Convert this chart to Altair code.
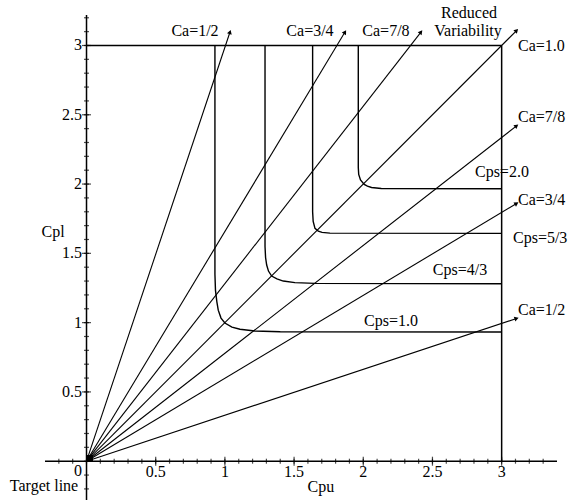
import altair as alt
import pandas as pd
import numpy as np

# ---- data ----
# Ca rays from the origin (end points of each arrow)
ray_label = ["Ca=1/2 (top)", "Ca=3/4 (top)", "Ca=7/8 (top)", "Ca=1.0",
             "Ca=7/8 (right)", "Ca=3/4 (right)", "Ca=1/2 (right)"]
ray_end_x = [1.037, 1.868, 2.417, 3.108, 3.108, 3.108, 3.108]
ray_end_y = [3.097, 3.097, 3.097, 3.108, 2.420, 1.860, 1.030]

# Cps contours (L-shaped curves)
cps1_x = [0.928, 0.928, 0.932, 0.942, 0.952, 0.972, 1.000, 1.051, 1.109, 1.217, 1.400, 3.000]
cps1_y = [3.000, 1.350, 1.233, 1.150, 1.090, 1.033, 0.997, 0.968, 0.952, 0.940, 0.934, 0.932]
cps43_x = [1.290, 1.290, 1.294, 1.302, 1.315, 1.338, 1.376, 1.422, 1.506, 1.650, 3.000]
cps43_y = [3.000, 1.550, 1.470, 1.416, 1.372, 1.336, 1.315, 1.300, 1.289, 1.283, 1.281]
cps53_x = [1.634, 1.634, 1.638, 1.651, 1.675, 1.702, 1.759, 3.000]
cps53_y = [3.000, 1.800, 1.730, 1.680, 1.661, 1.651, 1.646, 1.644]
cps2_x = [1.964, 1.964, 1.967, 1.980, 2.007, 2.030, 2.060, 2.130, 3.000]
cps2_y = [3.000, 2.120, 2.070, 2.030, 1.998, 1.985, 1.975, 1.968, 1.966]

# box and axes segments
seg_x = [0.0, 3.0, -0.30, 0.0]
seg_y = [3.0, 0.0, 0.0, -0.28]
seg_x2 = [3.0, 3.0, 3.40, 0.0]
seg_y2 = [3.0, 3.0, 0.0, 3.22]

# tick labels
x_tick_labels = ["0.5", "1", "1.5", "2", "2.5", "3"]
x_tick_values = [0.5, 1.0, 1.5, 2.0, 2.5, 3.0]
y_tick_labels = ["0.5", "1", "1.5", "2", "2.5", "3"]
y_tick_values = [0.5, 1.0, 1.5, 2.0, 2.5, 3.0]
x_minor = [i / 10 for i in range(-2, 34)]
y_minor = [i / 10 for i in range(-2, 33)]

# annotations
ann_text = ["Ca=1/2", "Ca=3/4", "Ca=7/8", "Reduced", "Variability",
            "Cps=2.0", "Cps=4/3", "Cps=1.0", "Cpl", "Cpu", "Target line"]
ann_x = [0.784, 1.615, 2.164, 2.764, 2.757, 3.002, 2.699, 2.200, -0.242, 1.694, -0.307]
ann_y = [3.104, 3.104, 3.104, 3.233, 3.104, 2.087, 1.380, 1.012, 1.654, -0.186, -0.182]
right_text = ["Ca=1.0", "Ca=7/8", "Ca=3/4", "Ca=1/2", "Cps=5/3"]
right_x = [3.118, 3.118, 3.118, 3.118, 3.082]
right_y = [2.996, 2.483, 1.885, 1.091, 1.610]

# ---- tables ----
xs = alt.Scale(domain=[-0.3, 3.4], nice=False, zero=False)
ys = alt.Scale(domain=[-0.28, 3.22], nice=False, zero=False)
FONT = "Liberation Serif"

rays = pd.DataFrame({"label": ray_label, "x": 0.0, "y": 0.0,
                     "x2": ray_end_x, "y2": ray_end_y})
rays["angle"] = 90 - np.degrees(np.arctan2(rays["y2"], rays["x2"]))

curves = []
for name, cx, cy in [("1.0", cps1_x, cps1_y), ("4/3", cps43_x, cps43_y),
                     ("5/3", cps53_x, cps53_y), ("2.0", cps2_x, cps2_y)]:
    for i, (a, b) in enumerate(zip(cx, cy)):
        curves.append({"cps": name, "i": i, "x": a, "y": b})
curves = pd.DataFrame(curves)

segs = pd.DataFrame({"x": seg_x, "y": seg_y, "x2": seg_x2, "y2": seg_y2})

seg_layer = alt.Chart(segs).mark_rule(color="black", strokeWidth=1.5).encode(
    x=alt.X("x:Q", scale=xs, axis=None), y=alt.Y("y:Q", scale=ys, axis=None),
    x2="x2:Q", y2="y2:Q")

ray_layer = alt.Chart(rays).mark_rule(color="black", strokeWidth=1.1).encode(
    x=alt.X("x:Q", scale=xs, axis=None), y=alt.Y("y:Q", scale=ys, axis=None),
    x2="x2:Q", y2="y2:Q")

head_layer = alt.Chart(rays).mark_point(shape="triangle-up", filled=True,
                                        color="black", size=24, opacity=1).encode(
    x=alt.X("x2:Q", scale=xs, axis=None), y=alt.Y("y2:Q", scale=ys, axis=None),
    angle=alt.Angle("angle:Q", scale=None))

origin_layer = alt.Chart(pd.DataFrame({"x": [0.025], "y": [0.023]})).mark_point(
    shape="square", filled=True, color="black", size=36, opacity=1).encode(
    x=alt.X("x:Q", scale=xs, axis=None), y=alt.Y("y:Q", scale=ys, axis=None))

curve_layer = alt.Chart(curves).mark_line(color="black", strokeWidth=1.4).encode(
    x=alt.X("x:Q", scale=xs, axis=None), y=alt.Y("y:Q", scale=ys, axis=None),
    detail="cps:N", order="i:Q")

xminor = alt.Chart(pd.DataFrame({"v": x_minor})).mark_tick(
    orient="vertical", color="black", size=5, thickness=1.2).encode(
    x=alt.X("v:Q", scale=xs, axis=None), y=alt.Y(datum=0, scale=ys, axis=None))
xmajor = alt.Chart(pd.DataFrame({"v": x_tick_values})).mark_tick(
    orient="vertical", color="black", size=9, thickness=1.2).encode(
    x=alt.X("v:Q", scale=xs, axis=None), y=alt.Y(datum=0, scale=ys, axis=None))
yminor = alt.Chart(pd.DataFrame({"v": y_minor})).mark_tick(
    orient="horizontal", color="black", size=5, thickness=1.2).encode(
    y=alt.Y("v:Q", scale=ys, axis=None), x=alt.X(datum=0, scale=xs, axis=None))
ymajor = alt.Chart(pd.DataFrame({"v": y_tick_values})).mark_tick(
    orient="horizontal", color="black", size=9, thickness=1.2).encode(
    y=alt.Y("v:Q", scale=ys, axis=None), x=alt.X(datum=0, scale=xs, axis=None))

xlab = alt.Chart(pd.DataFrame({"v": x_tick_values, "t": x_tick_labels})).mark_text(
    font=FONT, fontSize=16, color="black", align="center", baseline="middle").encode(
    x=alt.X("v:Q", scale=xs, axis=None), y=alt.Y(datum=-0.078, scale=ys, axis=None),
    text="t:N")
ylab = alt.Chart(pd.DataFrame({"v": y_tick_values, "t": y_tick_labels})).mark_text(
    font=FONT, fontSize=16, color="black", align="right", baseline="middle").encode(
    y=alt.Y("v:Q", scale=ys, axis=None), x=alt.X(datum=-0.033, scale=xs, axis=None),
    text="t:N")
zero_lab = alt.Chart(pd.DataFrame({"x": [-0.033], "y": [-0.07], "t": ["0"]})).mark_text(
    font=FONT, fontSize=16, color="black", align="right", baseline="middle").encode(
    x=alt.X("x:Q", scale=xs, axis=None), y=alt.Y("y:Q", scale=ys, axis=None), text="t:N")

ann = alt.Chart(pd.DataFrame({"x": ann_x, "y": ann_y, "t": ann_text})).mark_text(
    font=FONT, fontSize=16, color="black", align="center", baseline="middle").encode(
    x=alt.X("x:Q", scale=xs, axis=None), y=alt.Y("y:Q", scale=ys, axis=None), text="t:N")
ann_r = alt.Chart(pd.DataFrame({"x": right_x, "y": right_y, "t": right_text})).mark_text(
    font=FONT, fontSize=16, color="black", align="left", baseline="middle").encode(
    x=alt.X("x:Q", scale=xs, axis=None), y=alt.Y("y:Q", scale=ys, axis=None), text="t:N")

chart = alt.layer(
    seg_layer, curve_layer, ray_layer, head_layer, origin_layer,
    xminor, xmajor, yminor, ymajor, xlab, ylab, zero_lab, ann, ann_r
).properties(
    width=512, height=485,
    autosize=alt.AutoSizeParams(type="none"),
    padding={"left": 45, "top": 15, "right": 14, "bottom": 2},
    background="white",
).configure_view(stroke=None)

chart.save("out.html", embed_options={"renderer": "svg", "actions": False})
